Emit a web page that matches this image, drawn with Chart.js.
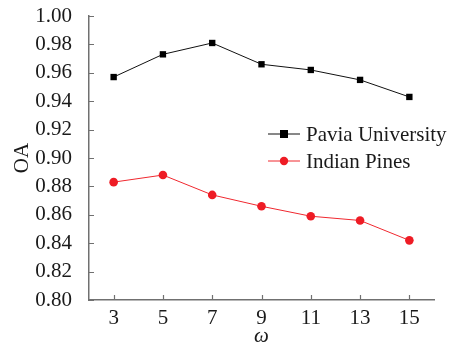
<!DOCTYPE html>
<html>
<head>
<meta charset="utf-8">
<script src="https://cdn.jsdelivr.net/npm/chart.js@4/dist/chart.umd.min.js"></script>
<style>
  html, body { margin: 0; padding: 0; background: #fff; }
  #wrap { width: 457px; height: 344px; }
</style>
</head>
<body>
<div id="wrap"><canvas id="oa-chart"></canvas></div>
<script>
const windowSizes = [3, 5, 7, 9, 11, 13, 15];
const paviaOA = [0.957, 0.973, 0.981, 0.966, 0.962, 0.955, 0.943];
const indianPinesOA = [0.883, 0.888, 0.874, 0.866, 0.859, 0.856, 0.842];
const yTicks = [0.8, 0.82, 0.84, 0.86, 0.88, 0.9, 0.92, 0.94, 0.96, 0.98, 1.0];

const serif = "'Liberation Serif', 'Times New Roman', serif";
const axisColor = "#707070";

// inward ticks + legend with line and marker
const decorPlugin = {
  id: "decor",
  afterDraw(chart) {
    const { ctx, chartArea, scales } = chart;
    ctx.save();
    ctx.strokeStyle = axisColor;
    ctx.lineWidth = 1.2;
    ctx.beginPath();
    scales.y.ticks.forEach((t) => {
      const py = Math.round(scales.y.getPixelForValue(t.value)) + 0.5;
      ctx.moveTo(chartArea.left, py);
      ctx.lineTo(chartArea.left + 5, py);
    });
    scales.x.ticks.forEach((t) => {
      const px = Math.round(scales.x.getPixelForValue(t.value)) + 0.5;
      ctx.moveTo(px, chartArea.bottom);
      ctx.lineTo(px, chartArea.bottom - 5);
    });
    ctx.stroke();

    // legend
    const lx = chartArea.left + 179;
    let ly = chartArea.top + 118;
    chart.data.datasets.forEach((ds) => {
      ctx.strokeStyle = ds.borderColor;
      ctx.lineWidth = 1;
      ctx.beginPath();
      ctx.moveTo(lx, ly);
      ctx.lineTo(lx + 32, ly);
      ctx.stroke();
      ctx.fillStyle = ds.pointBackgroundColor;
      if (ds.pointStyle === "rect") {
        ctx.fillRect(lx + 12, ly - 4, 8, 8);
      } else {
        ctx.beginPath();
        ctx.arc(lx + 16, ly, 4.2, 0, Math.PI * 2);
        ctx.fill();
      }
      ctx.fillStyle = "#1a1a1a";
      ctx.font = "21px " + serif;
      ctx.textBaseline = "middle";
      ctx.fillText(ds.label, lx + 38, ly + 1);
      ly += 27;
    });
    ctx.restore();
  },
};

new Chart(document.getElementById("oa-chart"), {
  type: "line",
  data: {
    datasets: [
      {
        label: "Pavia University",
        data: windowSizes.map((w, i) => ({ x: w, y: paviaOA[i] })),
        borderColor: "#111",
        borderWidth: 1,
        pointStyle: "rect",
        pointRadius: 4.5,
        pointBackgroundColor: "#000",
        pointBorderColor: "#000",
        pointBorderWidth: 0,
      },
      {
        label: "Indian Pines",
        data: windowSizes.map((w, i) => ({ x: w, y: indianPinesOA[i] })),
        borderColor: "#f0282f",
        borderWidth: 1,
        pointStyle: "circle",
        pointRadius: 4.3,
        pointBackgroundColor: "#ee1c25",
        pointBorderColor: "#ee1c25",
        pointBorderWidth: 0,
      },
    ],
  },
  options: {
    responsive: true,
    maintainAspectRatio: false,
    animation: false,
    layout: { padding: { top: 16, right: 23, left: 0, bottom: 0 } },
    scales: {
      x: {
        type: "linear",
        min: 2,
        max: 16,
        afterBuildTicks: (scale) => {
          scale.ticks = windowSizes.map((v) => ({ value: v }));
        },
        afterFit: (scale) => {
          scale.height = 44;
          scale.paddingLeft = 0;
          scale.paddingRight = 0;
        },
        border: { display: true, color: axisColor, width: 1.5 },
        grid: { display: false },
        ticks: {
          color: "#1a1a1a",
          font: { family: serif, size: 21 },
          padding: -2,
          maxRotation: 0,
          autoSkip: false,
        },
        title: {
          display: true,
          text: "ω",
          color: "#1a1a1a",
          font: { family: serif, size: 21, style: "italic" },
          padding: { top: 0, bottom: -5 },
        },
      },
      y: {
        min: 0.8,
        max: 1.0,
        afterBuildTicks: (scale) => {
          scale.ticks = yTicks.map((v) => ({ value: v }));
        },
        afterFit: (scale) => {
          scale.width = 89;
          scale.paddingTop = 0;
          scale.paddingBottom = 0;
        },
        border: { display: true, color: axisColor, width: 1.5 },
        grid: { display: false },
        ticks: {
          color: "#1a1a1a",
          font: { family: serif, size: 21 },
          padding: 9,
          autoSkip: false,
          callback: (v) => v.toFixed(2),
        },
        title: {
          display: true,
          text: "OA",
          color: "#1a1a1a",
          font: { family: serif, size: 21 },
          padding: { top: 10, bottom: 2 },
        },
      },
    },
    plugins: {
      legend: { display: false },
      tooltip: { enabled: false },
    },
  },
  plugins: [decorPlugin],
});
</script>
</body>
</html>
